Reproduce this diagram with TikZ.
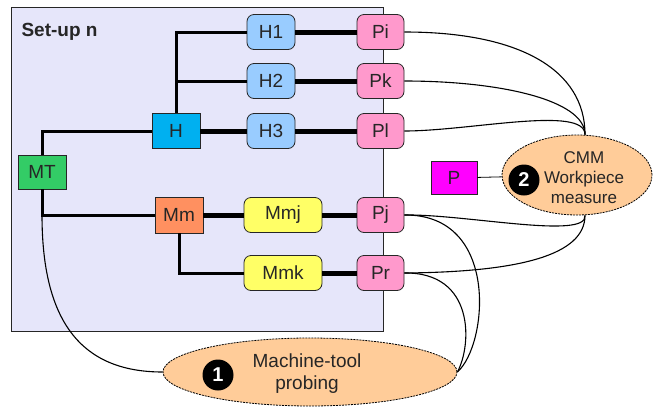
\documentclass[tikz,border=0pt]{standalone}
\usepackage{fontspec}
\setmainfont{Liberation Sans}
\usetikzlibrary{shapes.geometric}
\definecolor{setupbg}{HTML}{E6E6FA}
\definecolor{hlight}{HTML}{99CCFF}
\definecolor{hblue}{HTML}{00B0F0}
\definecolor{mtgreen}{HTML}{33CC66}
\definecolor{mmorange}{HTML}{FF9060}
\definecolor{myellow}{HTML}{FFFF66}
\definecolor{ppink}{HTML}{FF99CC}
\definecolor{pmagenta}{HTML}{FF00FF}
\definecolor{ovalfill}{HTML}{FFCC99}
\definecolor{ink}{HTML}{262626}

\begin{document}
\begin{tikzpicture}[x=1pt, y=-1pt, font=\fontsize{19}{21}\selectfont,
	box/.style={draw=black!85, line width=0.8pt, rectangle, minimum width=48pt, minimum height=35pt, inner sep=0pt, text=ink},
	rbox/.style={box, rounded corners=7pt},
	pbox/.style={rbox, fill=ppink, minimum width=47pt},
	thinlink/.style={line width=3pt},
	thicklink/.style={line width=5pt},
	wire/.style={line width=1.1pt},
	oval/.style={ellipse, draw, fill=ovalfill, dash pattern=on 2pt off 1pt, line width=0.8pt, inner sep=0pt},
	num/.style={circle, fill=black, text=white, font=\fontsize{20}{22}\selectfont\bfseries, minimum size=31pt, inner sep=0pt}]
	\useasboundingbox (0,0) rectangle (657,408);
	\draw[draw=black!85, line width=0.8pt, fill=setupbg] (11,7) rectangle (383,331);
	\node[anchor=west, text=ink, font=\fontsize{19}{21}\selectfont\bfseries] (title) at (18,32) {Set-up n};
	
	\node[box, fill=hblue] (H) at (176,131) {H};
	\node[rbox, fill=hlight, right of=H, node distance=95pt] (H3) {H3};
	\node[rbox, fill=hlight, above of=H3, node distance=50pt] (H2) {H2};
	\node[rbox, fill=hlight, above of=H2, node distance=49pt] (H1) {H1};
	\node[pbox, right of=H1, node distance=109.5pt] (Pi) {Pi};
	\node[pbox, right of=H2, node distance=109.5pt] (Pk) {Pk};
	\node[pbox, right of=H3, node distance=109.5pt] (Pl) {Pl};
	
	\node[box, fill=mtgreen, minimum height=34pt] (MT) at (42,172) {MT};
	\node[box, fill=mmorange, minimum height=36pt] (Mm) at (179,215) {Mm};
	\node[rbox, fill=myellow, minimum width=78pt, right of=Mm, node distance=104pt] (Mmj) {Mmj};
	\node[rbox, fill=myellow, minimum width=78pt, below of=Mmj, node distance=58pt] (Mmk) {Mmk};
	\node[pbox, right of=Mmj, node distance=97.5pt] (Pj) {Pj};
	\node[pbox, right of=Mmk, node distance=97.5pt] (Pr) {Pr};
	\coordinate (mtc) at (MT.south |- Mm.west);
	
	\node[box, fill=pmagenta, minimum width=46pt, minimum height=33pt] (P) at (454,178) {P};
	\node[oval, minimum width=150pt, minimum height=80pt] (cmm) at (577,175) {};
	\node[num] (two) at (524,180) {2};
	\node[align=center, text=ink, font=\fontsize{17}{20}\selectfont] (cmmtext) at (584,178) {CMM\\Workpiece\\measure};
	
	\node[oval, minimum width=294pt, minimum height=68pt] (probe) at (310,372) {};
	\node[num] (one) at (218,375) {1};
	\node[align=center, text=ink, font=\fontsize{19}{22}\selectfont] (probetext) at (307,374) {Machine-tool\\probing};
	
	\draw[thinlink] (H.north) |- (H1.west);
	\draw[thinlink] (H.north) |- (H2.west);
	\draw[thicklink] (H) -- (H3);
	\draw[thicklink] (H1) -- (Pi);
	\draw[thicklink] (H2) -- (Pk);
	\draw[thicklink] (H3) -- (Pl);
	\draw[thinlink] (MT.north) |- (H.west);
	\draw[thinlink] (MT.south) |- (Mm.west);
	\draw[thicklink] (Mm) -- (Mmj);
	\draw[thinlink] (Mm.south) |- (Mmk.west);
	\draw[thicklink] (Mmj) -- (Pj);
	\draw[thicklink] (Mmk) -- (Pr);
	
	\draw[line width=0.8pt] (P) -- (cmm);
	\draw[wire] (Pi.east) .. controls (520,32) and (585,70) .. ([xshift=8pt]cmm.north);
	\draw[wire] (Pk.east) .. controls (500,81) and (585,100) .. ([xshift=8pt]cmm.north);
	\draw[wire] (Pl.east) .. controls (470,131) and (585,105) .. ([xshift=8pt]cmm.north);
	\draw[wire] (Pj.east) .. controls (465,214) and (588,240) .. ([xshift=8pt]cmm.south);
	\draw[wire] (Pr.east) .. controls (520,272) and (585,255) .. ([xshift=8pt]cmm.south);
	\draw[wire] (Pj.east) .. controls (500,214) and (488,345) .. (probe.east);
	\draw[wire] (Pr.east) .. controls (475,272) and (472,345) .. (probe.east);
	\draw[wire] (mtc) .. controls (42,320) and (80,372) .. (probe.west);
\end{tikzpicture}
\end{document}
